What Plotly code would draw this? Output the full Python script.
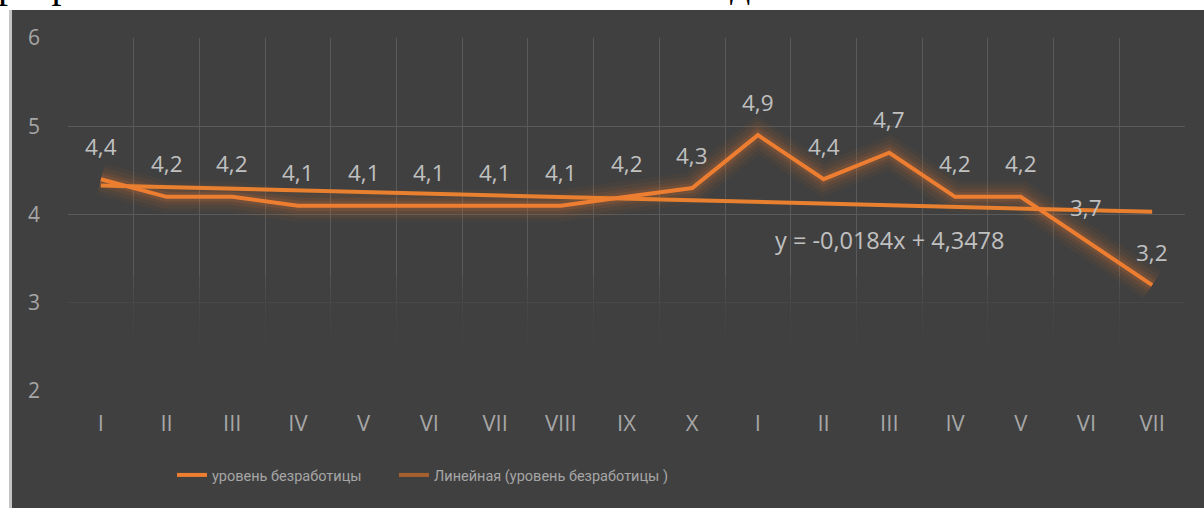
import plotly.graph_objects as go

# Data
months = ["I", "II", "III", "IV", "V", "VI", "VII", "VIII", "IX", "X",
          "I", "II", "III", "IV", "V", "VI", "VII"]
unemployment = [4.4, 4.2, 4.2, 4.1, 4.1, 4.1, 4.1, 4.1, 4.2, 4.3,
                4.9, 4.4, 4.7, 4.2, 4.2, 3.7, 3.2]
value_labels = ["4,4", "4,2", "4,2", "4,1", "4,1", "4,1", "4,1", "4,1", "4,2", "4,3",
                "4,9", "4,4", "4,7", "4,2", "4,2", "3,7", "3,2"]
trend_x = [0, 16]
trend_y = [4.33, 4.03]
equation = "y = -0,0184x + 4,3478"
header_text = "разработана экономико-математическая модель."

W, H = 1204, 508
xs = list(range(len(months)))

ORANGE = "#ED7D31"
BG = "#404040"
GRID = "#5a5a5a"
TICK = "#a6a6a6"
LABEL = "#c0c0c0"
LEGEND_FONT = dict(family="Roboto", size=14.5, color=TICK)

fig = go.Figure()

# glow under the series line
for w, a in [(32, 0.05), (24, 0.07), (16, 0.10), (10, 0.14)]:
    fig.add_scatter(x=xs, y=unemployment, mode="lines", showlegend=False, hoverinfo="skip",
                    line=dict(color=f"rgba(222,118,48,{a})", width=w))

fig.add_scatter(x=trend_x, y=trend_y, mode="lines", showlegend=False,
                line=dict(color="#E8802F", width=4))
fig.add_scatter(x=xs, y=unemployment, mode="lines", name="уровень безработицы",
                line=dict(color=ORANGE, width=4), legend="legend")
# legend entry for the trendline
fig.add_scatter(x=[None], y=[None], mode="lines", name="Линейная (уровень безработицы )",
                line=dict(color="#A65F2E", width=4), legend="legend2")

# header text, clipped by its own strip
fig.add_scatter(x=[-2], y=[7], mode="text", text=[header_text], textposition="top right",
                xaxis="x2", yaxis="y2", showlegend=False, hoverinfo="skip",
                textfont=dict(family="Liberation Serif", size=40, color="black"))

for x, y, t in zip(xs, unemployment, value_labels):
    fig.add_annotation(x=x, y=y, text=t, showarrow=False, yshift=33,
                       font=dict(family="Open Sans", size=22.5, color=LABEL))

fig.add_annotation(x=12, y=3.71, text=equation, showarrow=False,
                   font=dict(family="Open Sans", size=23.5, color=LABEL))

# frame pieces outside the chart
fig.add_shape(type="rect", xref="paper", yref="paper", x0=0, x1=9 / W, y0=0, y1=1,
              fillcolor="white", line_width=0, layer="below")
fig.add_shape(type="rect", xref="paper", yref="paper", x0=9 / W, x1=12 / W, y0=0, y1=(H - 10) / H,
              fillcolor="#c4c4c4", line_width=0, layer="below")
fig.add_shape(type="rect", xref="paper", yref="paper", x0=0, x1=1, y0=(H - 10) / H, y1=1,
              fillcolor="white", line_width=0, layer="below")

# fade the grid towards the bottom
for top in [3.3, 3.15, 3.0, 2.85, 2.7, 2.55]:
    fig.add_shape(type="rect", xref="x", yref="y", x0=-0.5, x1=16.5, y0=2, y1=top,
                  fillcolor=BG, opacity=0.4, line_width=0, layer="between")

legend_common = dict(orientation="h", y=(H - 475) / H, yanchor="middle",
                     font=LEGEND_FONT, bgcolor="rgba(0,0,0,0)", itemwidth=30)

fig.update_layout(
    width=W, height=H,
    margin=dict(l=0, r=0, t=0, b=0, autoexpand=False),
    paper_bgcolor=BG, plot_bgcolor=BG,
    showlegend=True,
    legend=dict(x=172 / W, xanchor="left", **legend_common),
    legend2=dict(x=394 / W, xanchor="left", **legend_common),
    xaxis=dict(domain=[68 / W, 1185 / W], range=[-0.5, 16.5], tickmode="array",
               tickvals=xs, ticktext=months, showgrid=False, zeroline=False, showline=False,
               automargin=False, ticklabelstandoff=17,
               tickfont=dict(family="Open Sans", size=22, color=TICK),
               minor=dict(tickmode="linear", tick0=0.5, dtick=1, showgrid=True,
                          gridcolor=GRID, gridwidth=1.3)),
    yaxis=dict(domain=[(H - 391) / H, (H - 38) / H], range=[2, 6], dtick=1,
               showgrid=True, gridcolor=GRID, gridwidth=1.3, zeroline=False, showline=False,
               automargin=False, ticklabelstandoff=27,
               tickfont=dict(family="Open Sans", size=21, color=TICK)),
    xaxis2=dict(domain=[0, 1], range=[0, W], visible=False, automargin=False),
    yaxis2=dict(domain=[(H - 10) / H, 1], range=[10, 0], visible=False, automargin=False),
)

# the page's default body margin would push the figure off by 8px
fig.write_html("out.html", config={"displayModeBar": False},
               post_script="document.body.style.margin='0';")
